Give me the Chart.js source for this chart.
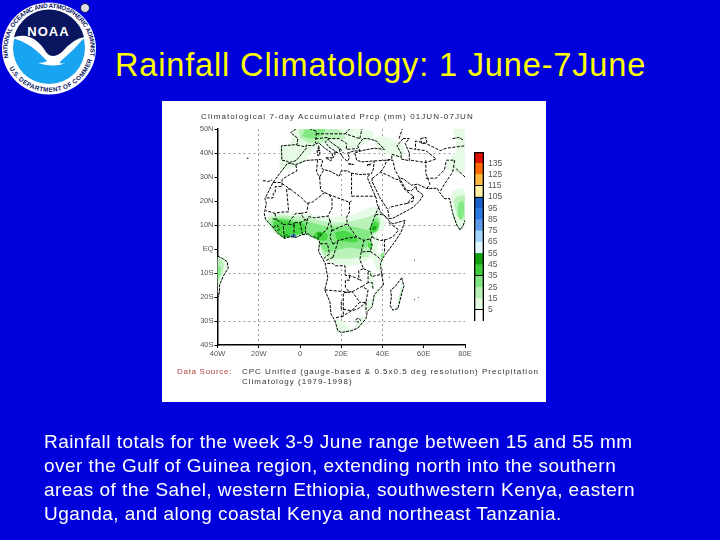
<!DOCTYPE html>
<html>
<head>
<meta charset="utf-8">
<script src="https://cdn.jsdelivr.net/npm/chart.js@4"></script>
<style>
    html, body { margin: 0; padding: 0; background: #0000dc; width: 720px; height: 540px; overflow: hidden; }
    body { position: relative; font-family: "Liberation Sans", Arial, sans-serif; }
    .abs { position: absolute; white-space: pre; }
    #panel { left: 162px; top: 101px; width: 384px; height: 301px; background: #fff; }
    canvas { position: absolute; }
    #mapChart { left: 0; top: 0; filter: blur(0.45px); }
    #barChart { left: 470px; top: 140px; filter: blur(0.35px); }
    #slideTitle { left: 115px; top: 46px; font-size: 32.5px; line-height: 38px; letter-spacing: 0.85px; color: #ffff00; }
    .body { left: 44px; font-size: 19px; line-height: 24px; letter-spacing: 0.45px; color: #fff; }
    .small { font-size: 8px; line-height: 10px; color: #333; letter-spacing: 1.0px; filter: blur(0.35px); }
    #logo { left: 0; top: 0; }
</style>
</head>
<body>
<div id="panel" class="abs"></div>

<svg id="logo" class="abs" width="100" height="97" viewBox="0 0 100 97">
    <ellipse cx="49" cy="48.5" rx="47" ry="46" fill="#fff"/>
    <circle cx="49" cy="48" r="36" fill="#18a4f0"/>
    <path d="M14 37 A36 36 0 0 1 84 37 Q72 44 60 60 Q52 66 48 60 Q34 38 14 37 Z" fill="#0a1560"/>
    <path d="M12 38 Q32 30 46 52 Q52 60 62 52 Q74 38 85 37 Q74 50 62 60 Q56 65 66 63 Q54 68 38 63 Q50 62 46 60 Q30 42 12 38 Z" fill="#fff"/>
    <text x="48.5" y="36" text-anchor="middle" font-family="Liberation Sans" font-weight="bold" font-size="13" letter-spacing="1" fill="#fff">NOAA</text>
    <defs>
        <path id="ringTop" d="M 8.5 58 A 41.5 41.5 0 1 1 90 56"/>
        <path id="ringBottom" d="M 10.5 58 A 40 40 0 0 0 87.5 58"/>
    </defs>
    <text font-family="Liberation Sans" font-weight="bold" font-size="6.3" fill="#0a1560"><textPath href="#ringTop" textLength="168">NATIONAL OCEANIC AND ATMOSPHERIC ADMINISTRATION</textPath></text>
    <text font-family="Liberation Sans" font-weight="bold" font-size="6.3" fill="#0a1560"><textPath href="#ringBottom" startOffset="8" textLength="104" dominant-baseline="hanging">U.S. DEPARTMENT OF COMMERCE</textPath></text>
    <circle cx="85" cy="8" r="4.5" fill="#ddd" stroke="#0a1560" stroke-width="1"/>
</svg>

<div id="slideTitle" class="abs">Rainfall Climatology: 1 June-7June</div>

<canvas id="mapChart" width="720" height="540"></canvas>
<canvas id="barChart" width="50" height="194"></canvas>

<div class="abs small" style="left:201px; top:112px; letter-spacing:1.1px;">Climatological 7-day Accumulated Prcp (mm) 01JUN-07JUN</div>
<div class="abs small" style="left:177px; top:367px; letter-spacing:0.7px; color:#b04040;">Data Source:</div>
<div class="abs small" style="left:242px; top:367px;">CPC Unified (gauge-based &amp; 0.5x0.5 deg resolution) Precipitation</div>
<div class="abs small" style="left:242px; top:377px;">Climatology (1979-1998)</div>

<div class="abs body" style="top:430px;">Rainfall totals for the week 3-9 June range between 15 and 55 mm</div>
<div class="abs body" style="top:454px;">over the Gulf of Guinea region, extending north into the southern</div>
<div class="abs body" style="top:478px;">areas of the Sahel, western Ethiopia, southwestern Kenya, eastern</div>
<div class="abs body" style="top:502px;">Uganda, and along coastal Kenya and northeast Tanzania.</div>

<script>
// Eixos
const lonTicks = [-40, -20, 0, 20, 40, 60, 80];
const lonLabels = ['40W', '20W', '0', '20E', '40E', '60E', '80E'];
const latTicks = [50, 40, 30, 20, 10, 0, -10, -20, -30, -40];
const latLabels = ['50N', '40N', '30N', '20N', '10N', 'EQ', '10S', '20S', '30S', '40S'];
const lonGridValues = [-20, 20, 40];
const latGridValues = [40, 10, -10, -30];

// Escala de cores (mm)
const barEdges = [-5, 5, 15, 25, 35, 45, 55, 65, 75, 85, 95, 105, 115, 125, 135, 145];
const barLabels = [5, 15, 25, 35, 45, 55, 65, 75, 85, 95, 105, 115, 125, 135];
const barLines = [115, 105, 35, 5];

// Costas (lon, lat)
const africaCoast = [[-6,35.8],[-2,35.2],[3,36.9],[10,37.3],[11,36.9],[10.2,34.3],[11,33.2],[15,32.3],[19,30.3],[20,32.5],[23,32.6],[25,31.6],[29,31],[32,31.2],[34,31.2],[32.6,29.9],[34,27],[35.5,24],[37,21],[37.3,19],[39,15.5],[43,12],[43.3,11.5],[45,10.5],[51,11.9],[49,7],[46,3],[42,-1.5],[40,-4],[39,-6],[39.5,-10],[40.5,-15],[36,-19],[35,-24],[32.7,-26],[32,-29],[28,-33],[25,-34],[20,-34.8],[18.3,-34],[17,-30],[15,-27],[14.5,-22],[12,-17],[13.5,-12],[12.2,-6],[9,-1],[9.5,3],[8.5,4.5],[5,5.5],[4.5,6.3],[1,6],[-2,4.8],[-4.5,5.2],[-7.5,4.4],[-11,6.8],[-13.5,9.5],[-16.7,12.3],[-17.3,14.7],[-16.3,19],[-17,21],[-13,27.8],[-9.8,31.5],[-6,35.8]];
const europeCoast = [[-2,50],[-4.5,48.5],[-1,46],[-1.5,43.5],[-9,43],[-8.8,37],[-6,36.5],[-5.3,36],[-2,36.8],[0,38.7],[3,42],[3,43.3],[6,43],[9,44.3],[12,42],[15.5,40],[16,38],[17,39.5],[16.5,40.5],[18.5,40],[14,42.5],[12.3,44.5],[13.5,45.7],[15,44.5],[19,42],[19.5,40],[21,38],[23,36.5],[24,38],[23,40],[26,40.8],[29,41],[28,43],[30.5,46],[33,46],[37,45],[41,41.5],[36,42],[30,41],[26.5,40],[27.5,37],[30,36.3],[36,36.7],[35.5,33],[34.5,31.3]];
const southAmericaCoast = [[-40,-3],[-38,-3.7],[-35.3,-5.3],[-34.8,-8],[-37,-11],[-39,-15],[-39,-18],[-40,-20.5]];
const madagascarCoast = [[49.3,-12],[50.4,-15.5],[49.5,-18],[47.5,-24.8],[45,-25.5],[43.7,-23.5],[44.3,-20],[44,-17],[46,-15.8],[49.3,-12]];
const arabiaCoast = [[34.9,29.5],[35,28],[39,21],[42.5,16.5],[43.3,12.7],[45,12.8],[52,16],[55,17.5],[58,20],[59.8,22.5],[56.5,24.5],[56.3,26.2],[54,24.2],[51.5,24.5],[50.2,26.5],[48,29.8],[50.5,29],[54,26.6],[57,27],[61.5,25.2],[66.5,25.3],[67.5,23.8],[70,21],[72.5,21],[73,19],[74,15],[76,10],[77.5,8],[79,9.5],[80,12]];
const caspianCoast = [[50,46],[47,43],[49,40],[49,37.5],[53,36.8],[53,40],[51,44],[53,46],[50,46]];
const aralCoast = [[58.5,46],[61,46.5],[61.5,44.5],[59,43.8],[58.5,46]];
const balkhashCoast = [[74,46],[77,46.5],[79,45.5]];
const islands = [[[8.3,41],[9.7,41],[9.5,39],[8.5,39],[8.3,41]],[[9,43],[9.5,41.5],[8.7,41.7],[9,43]],[[12.5,38],[15.5,38],[15,36.7],[12.5,38]],[[23.5,35.5],[26,35.2],[23.5,35.5]],[[32.5,35],[34.5,35.5],[33,34.6],[32.5,35]],[[-25.8,37.8],[-25,37.8]],[[-18,28.5],[-16.5,28.3]],[[-15.8,28],[-13.5,28.8]],[[55.4,-20.9],[55.8,-21.2]],[[57.4,-20.2],[57.7,-20.4]],[[43.3,-11.7],[43.6,-11.9]],[[55.4,-4.6],[55.8,-4.8]]];

// Fronteiras (lon, lat)
const borders = [
    [[-2,35],[-1.5,32.5],[-5,31],[-8.7,29],[-8.7,27.5]],
    [[-13,27.7],[-8.7,27.7],[-8.7,26],[-12,26],[-12,23.4],[-13,23],[-13,21.3],[-17,21.3]],
    [[-8.7,27.3],[-4.8,25],[-6.5,25],[-5.5,15.5],[-10,15.3],[-12,14.8],[-16.5,16]],
    [[-4.8,25],[1.2,21],[3.3,19],[6,19.5],[12,23.5],[10,24.5],[9.5,30],[8,32],[8.5,37]],
    [[9.5,30],[11.5,33]],
    [[25,31.6],[25,22]],
    [[12,23.5],[14,22.7],[24,19.5],[25,20]],
    [[25,22],[36.8,22]],
    [[24,19.5],[24,15.5],[22.5,13],[23,10.5]],
    [[14,22.7],[15.5,21],[15.5,17],[13.5,13.7]],
    [[3.5,11.7],[4,13.5],[7,13],[13.5,13.7],[14.5,12],[13,8],[11,6.7],[8.7,4.6]],
    [[2.7,6.4],[2.7,9],[3.6,11.7],[2.3,12.4]],
    [[0.2,14.8],[3.3,15.3],[4,19]],
    [[-5.5,10.4],[-3,9.9],[-3,11],[0,11],[2.3,11.9],[2.3,12.4],[0.2,14.8],[-2,14.9],[-5,11.5],[-5.5,10.4]],
    [[-3,5],[-2.8,11]],
    [[1.2,6],[0,11]],
    [[-7.5,4.4],[-8,7.6],[-8,10.2],[-5.5,10.4]],
    [[-13.2,12.6],[-11.4,12.3],[-8,10.2]],
    [[-13,9],[-11,10],[-10,8.3],[-11.5,7]],
    [[-12.2,14.8],[-11.4,12.3]],
    [[14.5,12],[15.5,8],[14.5,5],[16,2]],
    [[15.5,7.6],[19,9],[23,10.5]],
    [[16,2],[18.5,3.5],[23,4.5],[27.4,5]],
    [[23,10.5],[27.4,5],[31,3.6],[34,4.2],[35,5],[34,8.5],[36,13],[36.5,14.3],[38.5,18]],
    [[36.5,14.3],[40,14.5],[43,12.5]],
    [[43,11],[47.8,8],[45,5],[42,4],[39,3.5],[36,4.5],[35,5]],
    [[41,4],[41,-1.6]],
    [[34,-1],[37.5,-3],[39.2,-4.7]],
    [[34,4.2],[35,1.5],[34,-1],[29.7,-1.2],[30,0],[31,3.6]],
    [[29.7,-1.2],[29,-4.5],[30.8,-8.2],[28.5,-9],[28.5,-12],[29.7,-13.3],[27,-12],[24,-11],[22,-11],[21.8,-7],[17,-7],[16,-6],[12.2,-6]],
    [[16,-3.5],[18,2],[18.5,3.5]],
    [[16,-3.5],[12,-5]],
    [[9.7,2.2],[13.3,2.2],[14.3,-2],[11.5,-4]],
    [[30.8,-8.2],[34,-9.5],[34.6,-11.5],[40.4,-10.4]],
    [[33,-9.5],[33,-14],[35,-14],[35.5,-17]],
    [[30.2,-15.6],[33,-14]],
    [[24,-11],[24,-13],[22,-13],[22,-16],[24,-18]],
    [[12,-17],[24,-18],[25,-17.8],[21,-18.3],[21,-28],[17,-28.7]],
    [[20,-22],[20,-25],[25,-25.7],[29,-22.2],[25.3,-17.8]],
    [[25.3,-17.8],[30,-15.6],[33,-17],[32,-22.3],[29,-22.2]],
    [[32,-22.3],[32,-26.5]],
    [[20,-28.4],[25,-25.7],[28,-25],[32,-22.3]],
    [[27,-29.5],[28.5,-28.7],[29.4,-29.8],[28,-30.6],[27,-29.5]],
    [[35,29.4],[39,32],[42,31],[46.5,29],[48,29],[51,24.5],[55,22],[52,19],[49,18.5],[44,17.5],[43,16.8]],
    [[55,22],[55,20],[52,19]],
    [[39,32],[41,34.5],[42,37],[45,37],[46,33],[48,30]],
    [[36,36.7],[42,37],[44.5,37.5],[44.5,39.5],[48,38.5]],
    [[61,37],[61,31.5],[63,27],[61.5,25.2]],
    [[61,29.5],[66,29.5],[70,33],[71,37],[75,37]],
    [[75,37],[74,32],[70,27],[68,24]],
    [[53,42],[56,41.5],[56,45],[61,44],[68,41],[71,42],[80,43]],
    [[53.8,37],[61,36],[66,37.5],[61,41],[56,41.5]],
    [[80,30],[75,34]],
    [[48,46],[50,51]],
    [[2.5,51],[8,49],[7.5,44]],
    [[-1.5,43.3],[3,42.5]],
    [[8,48],[13,48],[17,48],[22,48],[29,46]],
    [[7.5,45.9],[13.5,46.5]],
    [[13.5,46],[19,46],[22.5,44],[22.5,41.5],[26,41.7],[28,42]],
    [[19.3,42],[21,40]],
    [[29,46],[30,50]],
    [[22,48],[24,50]]
];

// Chuva: contornos, por classe de mm (lon, lat)
const rain5to15 = [
    [[-17,12],[-16,14],[-10,15],[-3,15],[5,14.5],[13,13.5],[20,13.5],[26,14.5],[31,16.5],[37,17.5],[40,14],[41,9],[38,6],[38,2],[37,-1],[39.5,-2],[40.5,-6],[39,-9],[37,-8.5],[35,-4],[32,-5],[28,-6.5],[24,-7],[19,-6.5],[14,-5.5],[12,-4],[9,0],[9,4],[6,4.5],[2,5.5],[-2,4.5],[-5,4.6],[-8,4],[-12,6.5],[-15,9],[-17,12]],
    [[-10,43],[-5,44],[-2,50],[20,50],[30,50],[36,48],[30,43],[22,41],[18,41],[14,43],[10,43],[5,40],[3,37],[-3,34],[-9,33],[-10,38],[-10,43]],
    [[35,46],[40,47],[50,43],[50,38],[45,39],[38,42],[35,46]],
    [[74,50],[80,50],[80,32],[75,32],[71,34],[73,38],[76,42],[74,50]],
    [[73.5,16],[74,24],[80,24.5],[80,9],[78,8],[76,10],[73.5,16]],
    [[49.8,-14],[50,-16],[49,-18.5],[47.5,-25],[46.5,-25],[48,-19],[48.8,-15.5],[49.8,-14]],
    [[35.5,-21],[37,-17],[40,-15.5],[38,-18.5],[34.5,-24],[32.5,-26],[31,-24],[33,-21],[35.5,-21]],
    [[16.5,-28],[18,-34.5],[22,-35],[26,-34.5],[24,-33],[21,-30.5],[16.5,-28]],
    [[26,-34],[30,-32],[32,-29],[30,-28],[27,-31],[26,-34]],
    [[33,-9],[35,-9],[36,-15],[34,-16],[33,-9]],
    [[-40,-3],[-36,-4],[-35,-6],[-35,-8],[-37,-11],[-38.5,-15],[-40,-19],[-40,-3]]
];
const rain15to25 = [
    [[-16,11.5],[-15,13],[-10,14],[-3,13.5],[4,13],[12,11.5],[20,11],[27,12],[32,13],[37,14.5],[39,12],[38,8],[35,5],[35,1],[33,-3],[28,-3.5],[24,-4],[18,-4],[14,-3.5],[11,-2],[9.5,3],[6,4.5],[2,6],[-3,5],[-8,4.6],[-12,7],[-14,9],[-16,11.5]],
    [[0,46],[0,50],[18,50],[22,46],[17,46],[10,44.5],[5,44],[0,46]],
    [[76,14],[75,21],[80,22],[80,12],[76,14]],
    [[49.5,-15.5],[48.5,-18.5],[47.5,-22.5],[48,-22],[49.2,-18.5],[49.5,-15.5]],
    [[-40,-4],[-37.5,-5],[-37,-8],[-38.5,-12],[-40,-14],[-40,-4]]
];
const rain25to35 = [
    [[-14,9.5],[-13,12.5],[-8,12.8],[-3,12],[3,11.5],[8,10.5],[12,9.5],[18,9.5],[24,9.5],[28,9],[33,8],[35,11],[37,13],[38.5,11],[37.5,7.5],[34,6],[33.5,2],[30,0],[25,0.5],[20,0],[15,-1],[12,-1],[9.8,2],[9.5,4],[7,4.6],[5,6],[1,6.5],[-3,5.5],[-8,5],[-11,7.5],[-14,9.5]],
    [[39,-2.5],[41,-1],[40.5,-3],[39.5,-4.5],[39,-2.5]],
    [[1,47],[3,50],[12,50],[10,47],[5,46],[1,47]],
    [[76.5,14],[77,19],[79,20],[79.5,15],[78,12],[76.5,14]],
    [[-40,-7],[-38.5,-8],[-39.5,-12],[-40,-12],[-40,-7]]
];
const rain35to45 = [
    [[-13,10],[-12,12],[-7,12],[-2,11],[2,10.5],[3,8],[1,6.5],[-4,5.5],[-8,5],[-11,7.3],[-13,10]],
    [[6,5],[8,7],[13,6.5],[13,4],[10,3.5],[6,5]],
    [[17,7],[22,7.5],[27,5],[28,3],[23,3],[18,4],[17,7]],
    [[34,9.5],[36,11.5],[38,10.5],[37,7.5],[35,7],[34,9.5]],
    [[33.5,3],[35,2],[34.5,0],[33,1],[33.5,3]]
];
const rain45to55 = [
    [[35,9.5],[37,9.5],[36.5,8],[35,8],[35,9.5]],
    [[-8,5],[-5,5.3],[-7,6.5],[-8,5]],
    [[8,6.5],[10,7],[10.5,5.5],[9,5],[8,6.5]],
    [[74.5,14],[75,12.5],[76.5,9.5],[77.5,8],[76,10],[74.2,14],[74.5,14]]
];
const rain75to85 = [
    [[-4.5,5],[-2,5],[-2,6],[-4.5,6],[-4.5,5]],
    [[77.2,8.5],[78,8.5],[78,7.7],[77.2,8.5]]
];

const toPoints = list => list.map(([x, y]) => ({ x, y }));

// Estilo das linhas do mapa
const lineDataset = (points, dash) => ({
    data: toPoints(points),
    showLine: true,
    borderColor: '#000',
    borderWidth: 1,
    borderDash: dash,
    pointRadius: 0,
    fill: false
});

// Contorno preenchido de chuva
const rainDataset = (points, color) => ({
    data: toPoints(points),
    showLine: true,
    borderColor: 'transparent',
    borderWidth: 0,
    backgroundColor: color,
    pointRadius: 0,
    tension: 0.35,
    fill: 'shape'
});

const mapDatasets = [
    ...[africaCoast, europeCoast, southAmericaCoast, madagascarCoast, arabiaCoast, caspianCoast, aralCoast, balkhashCoast, ...islands]
        .map(points => lineDataset(points, [3, 1])),
    ...borders.map(points => lineDataset(points, [3, 1.5])),
    // Primeiro dataset fica por cima no preenchimento
    ...rain75to85.map(points => rainDataset(points, '#5a9ae8')),
    ...rain45to55.map(points => rainDataset(points, '#18a818')),
    ...rain35to45.map(points => rainDataset(points, '#48d848')),
    ...rain25to35.map(points => rainDataset(points, '#84e884')),
    ...rain15to25.map(points => rainDataset(points, '#baf2ba')),
    ...rain5to15.map(points => rainDataset(points, '#e6fbe6'))
];

const axisFont = { family: 'Liberation Sans', size: 7.5 };

new Chart(document.getElementById('mapChart'), {
    type: 'scatter',
    data: { datasets: mapDatasets },
    options: {
        responsive: false,
        animation: false,
        layout: { padding: { left: 187.5, right: 255, top: 129, bottom: 175 } },
        plugins: { legend: { display: false }, tooltip: { enabled: false } },
        scales: {
            x: {
                min: -40,
                max: 80,
                afterFit: scale => { scale.height = 20; },
                afterBuildTicks: scale => { scale.ticks = lonTicks.map(value => ({ value })); },
                border: { color: '#000', width: 1.5, dash: [2, 3] },
                grid: {
                    color: ctx => lonGridValues.includes(ctx.tick.value) ? '#999' : 'transparent',
                    tickColor: '#000',
                    tickLength: 3,
                    lineWidth: 1,
                    tickBorderDash: []
                },
                ticks: {
                    font: axisFont,
                    color: '#555',
                    padding: 1,
                    maxRotation: 0,
                    callback: value => lonLabels[lonTicks.indexOf(value)]
                }
            },
            y: {
                min: -40,
                max: 50,
                afterFit: scale => { scale.width = 30; },
                afterBuildTicks: scale => { scale.ticks = latTicks.map(value => ({ value })); },
                border: { color: '#000', width: 1.5, dash: [2, 3] },
                grid: {
                    color: ctx => latGridValues.includes(ctx.tick.value) ? '#999' : 'transparent',
                    tickColor: '#000',
                    tickLength: 3,
                    lineWidth: 1,
                    tickBorderDash: []
                },
                ticks: {
                    font: axisFont,
                    color: '#555',
                    padding: 1,
                    callback: value => latLabels[latTicks.indexOf(value)]
                }
            }
        }
    }
});

// Barra de cores
const barColors = ['#ffffff', '#e2fae2', '#b6f0b6', '#80e480', '#3ccb3c', '#10a010', '#e2f8ff', '#a4d4fa', '#5a9ae8', '#2a78e0', '#1a60c8', '#fff0a0', '#ffb840', '#ff6a00', '#e01000'];

const barSegments = barColors.map((color, i) => ({
    data: [[barEdges[i], barEdges[i + 1]]],
    backgroundColor: color,
    barPercentage: 1,
    categoryPercentage: 1
}));

// Moldura preta aberta embaixo
const barFrame = {
    data: [[barEdges[0], barEdges[barEdges.length - 1]]],
    backgroundColor: 'transparent',
    borderColor: '#000',
    borderWidth: { left: 1, right: 1, top: 1, bottom: 0 },
    borderSkipped: false,
    barPercentage: 1,
    categoryPercentage: 1,
    order: -1
};

new Chart(document.getElementById('barChart'), {
    type: 'bar',
    data: { labels: [''], datasets: [...barSegments, barFrame] },
    options: {
        responsive: false,
        animation: false,
        layout: { padding: { left: 4, right: 0, top: 12, bottom: 13 } },
        plugins: { legend: { display: false }, tooltip: { enabled: false } },
        scales: {
            x: {
                stacked: true,
                afterFit: scale => { scale.height = 0; },
                border: { display: false },
                grid: { display: false },
                ticks: { display: false }
            },
            y: {
                position: 'right',
                min: barEdges[0],
                max: barEdges[barEdges.length - 1],
                afterFit: scale => { scale.width = 36; },
                afterBuildTicks: scale => { scale.ticks = barLabels.map(value => ({ value })); },
                border: { display: false },
                grid: {
                    color: ctx => barLines.includes(ctx.tick.value) ? '#000' : 'transparent',
                    tickColor: 'transparent',
                    tickLength: 2,
                    z: 1
                },
                ticks: {
                    font: { family: 'Liberation Sans', size: 8.5 },
                    color: '#555',
                    padding: 2,
                    autoSkip: false,
                    callback: value => String(value)
                }
            }
        }
    }
});
</script>
</body>
</html>
